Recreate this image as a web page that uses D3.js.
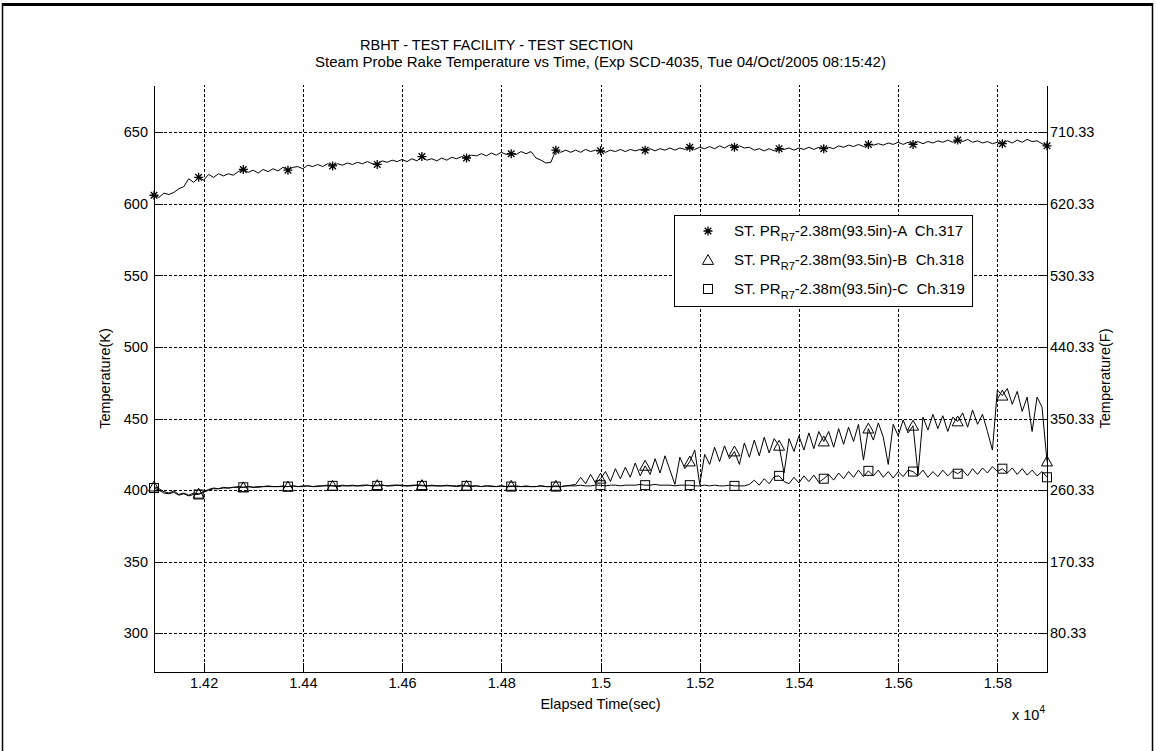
<!DOCTYPE html>
<html>
<head>
<meta charset="utf-8">
<script src="https://cdn.jsdelivr.net/npm/d3@7"></script>
<style>
  html, body { margin: 0; padding: 0; background: #fff; }
  svg { display: block; }
  text { font-family: "Liberation Sans", Arial, sans-serif; fill: #000; }
</style>
</head>
<body>
<svg id="chart" width="1156" height="751"></svg>
<script>
// ---------- data ----------
const titleLines = ["RBHT - TEST FACILITY - TEST SECTION",
  "Steam Probe Rake Temperature vs Time, (Exp SCD-4035, Tue 04/Oct/2005 08:15:42)"];
const xTicks = [14200, 14400, 14600, 14800, 15000, 15200, 15400, 15600, 15800];
const yTicksK = [300, 350, 400, 450, 500, 550, 600, 650];
const yTicksF = ["80.33", "170.33", "260.33", "350.33", "440.33", "530.33", "620.33", "710.33"];
const seriesNames = ["-2.38m(93.5in)-A  Ch.317", "-2.38m(93.5in)-B  Ch.318", "-2.38m(93.5in)-C  Ch.319"];
// sample times (s), every 10 s from 14100 to 15900
const times = d3.range(14100, 15901, 10);

const tempA = [
606,604.5,607.5,606.5,608,610.5,612,617.5,615,618.5,
616.5,620.5,618.5,621,619.5,621,620,622.5,624,622,
623.5,621.5,624,622.5,624.5,623,625.5,623.5,625.5,626,
624.5,627,626,627.5,626,628,626.5,628,627,628.5,
627.5,629,628,629.5,628,627.5,630,629,630.5,629.5,
631,629.5,631.5,630,633,630.5,631.5,630,632,630.5,
632.5,631.5,633,632,634,633.5,635,633.5,635.5,634,
636,634.5,635,634.5,636.5,635,636.5,632,630.5,628.5,
629,637.5,636,637.5,636,637.5,636,638,636.5,637.5,
637,636,637.5,636.5,638,636.5,638,637,638,637.5,
638.5,637,638.5,637.5,639,637.5,639,638,639.5,638,
639.5,638.5,640,638.5,640.5,639,641,639.5,640.5,639,
639.5,637.5,638.5,637,638.5,637,638.5,638,639,637.5,
639,638,639.5,638,639.5,638.5,639.5,638.5,640.5,639.5,
641,640,641.5,640,641.5,641,642,641,642.5,641.5,
643,641.5,643,641.5,643.5,642,643.5,642.5,644,643,
644.5,643,644.5,643.5,645,643,644,642.5,643.5,642,
643,642,644,642.5,644.5,643,645,643.5,644,642,
640.5];

const tempB = [
402.5,401,399,398,399.5,397,398,396.5,398,397.5,
399,400.5,401.5,401,402,401.5,402,402.5,402,402.5,
402,402.5,402.5,403,402.5,402.5,403,402.5,403,402.5,
403,403,402.5,403,403,403.5,403,403,403.5,403,
403.5,403,403.5,403.5,403,403.5,403.5,403,403.5,403.5,
403.5,403,403.5,403.5,403.5,403,403.5,403,403,403.5,
403,403,403.5,403,403,403,402.5,403,403,402.5,
403,402.5,403,402.5,402.5,403,402.5,402.5,403,402.5,
402.5,403,402.5,403,403.5,404,409,404.5,411,405,
408,413,406,415,408,416,409,419,410,417,
411,422,412,424,414,404,423,415,420,428,
404,425,418,430,420,431,422,427,418,433,
423,435,424,437,426,436,431,412,436,427,
438,428,440,429,441,434,441,430,443,432,
444,434,446,421,443,435,447,437,418,446,
438,449,440,445,411,451,442,453,443,452,
441,451,448,454,444,456,446,453,441,428,
470,466,471,460,469,455,465,441,465,458,
420];

const tempC = [
401.5,400,398,397.5,398.5,396.5,397.5,396,397,397,
398.5,400,401,401,401.5,401.5,402,402,402,402.5,
402,402,402.5,402.5,402.5,402.5,402.5,402.5,403,402.5,
402.5,403,402.5,402.5,403,403,403,402.5,403,403,
403,403,403,403.5,403,403,403.5,403,403,403.5,
403,403,403,403.5,403,403,403,403,403,403,
403,402.5,403,403,402.5,403,402.5,403,402.5,402.5,
403,402.5,402.5,403,402.5,402.5,402.5,402.5,403,402.5,
402.5,402.5,402.5,403,403,403,403.5,403,403,403.5,
403.5,403,403.5,403.5,403,403.5,403.5,403.5,404,403.5,
403.5,404,403.5,403.5,403.5,403,403.5,403.5,403.5,403,
403,403.5,403,403.5,403,403,403.5,403,403,403,
404,407,403.5,408,404.5,409.5,410,406,404.5,409,
405,410,406,410.5,405.5,408,411,407,412,408,
413,409,414,409.5,413.5,410,414,409,413,408.5,
413,409.5,414,413,410,414,409,413,409.5,414,
410,413.5,411.5,414,410,415,411,415.5,412,416.5,
413,415,412,415.5,411,415,410.5,414,410,413,
409];

// ---------- layout ----------
const svg = d3.select("#chart");
const L = 154, R = 1047, T = 85, B = 672;
const x = d3.scaleLinear().domain([14100, 15900]).range([L, R]);
const y = d3.scaleLinear().domain([273, 683]).range([B, T]);
const fontSize = 14.5, bigFont = 15;

// outer frame
svg.append("line").attr("x1", 2).attr("x2", 1153).attr("y1", 4.5).attr("y2", 4.5)
  .attr("stroke", "#000").attr("stroke-width", 3);
svg.append("line").attr("x1", 2.5).attr("x2", 2.5).attr("y1", 3).attr("y2", 751)
  .attr("stroke", "#000").attr("stroke-width", 1.5);
svg.append("line").attr("x1", 1152.5).attr("x2", 1152.5).attr("y1", 3).attr("y2", 751)
  .attr("stroke", "#000").attr("stroke-width", 1.5);

// grid
const grid = svg.append("g").attr("stroke", "#000").attr("stroke-width", 1)
  .attr("stroke-dasharray", "3,2").attr("shape-rendering", "crispEdges");
grid.selectAll("line.v").data(xTicks).join("line")
  .attr("x1", d => Math.round(x(d)) + 0.5).attr("x2", d => Math.round(x(d)) + 0.5)
  .attr("y1", B).attr("y2", T);
grid.selectAll("line.h").data(yTicksK).join("line")
  .attr("y1", d => Math.round(y(d)) + 0.5).attr("y2", d => Math.round(y(d)) + 0.5)
  .attr("x1", L).attr("x2", R);

// axes
const fmtX = d => String(+(d / 1e4).toFixed(2));
const axB = svg.append("g").attr("transform", `translate(0,${B})`)
  .call(d3.axisBottom(x).tickValues(xTicks).tickFormat(fmtX).tickSize(-9).tickPadding(6).tickSizeOuter(0));
const axL = svg.append("g").attr("transform", `translate(${L},0)`)
  .call(d3.axisLeft(y).tickValues(yTicksK).tickFormat(d3.format("d")).tickSize(-9).tickPadding(6).tickSizeOuter(0));
const axR = svg.append("g").attr("transform", `translate(${R},0)`)
  .call(d3.axisRight(y).tickValues(yTicksK).tickFormat((d, i) => yTicksF[i]).tickSize(-9).tickPadding(3).tickSizeOuter(0));
[axB, axL, axR].forEach(a => {
  a.selectAll("text").style("font-size", fontSize + "px").style("font-family", '"Liberation Sans", Arial, sans-serif');
  a.selectAll("path,line").attr("stroke", "#000").attr("shape-rendering", "crispEdges");
  a.select(".domain").attr("stroke-width", 1);
});

// series
const line = d3.line().x((d, i) => x(times[i])).y(d => y(d));
const series = [tempA, tempB, tempC];
const plot = svg.append("g");
series.forEach(s => {
  plot.append("path").datum(s).attr("d", line)
    .attr("fill", "none").attr("stroke", "#000").attr("stroke-width", 1);
});

// markers (every 90 s)
function drawMarker(g, kind, cx, cy) {
  if (kind === 0) {
    const r = 4.5, q = 3.3;
    g.append("path").attr("d",
      `M${cx - r},${cy}L${cx + r},${cy}M${cx},${cy - r}L${cx},${cy + r}` +
      `M${cx - q},${cy - q}L${cx + q},${cy + q}M${cx - q},${cy + q}L${cx + q},${cy - q}`)
      .attr("stroke", "#000").attr("stroke-width", 1.3).attr("fill", "none");
  } else if (kind === 1) {
    const r = 5.5;
    g.append("path").attr("d", `M${cx},${cy - r}L${cx + r},${cy + r * 0.8}L${cx - r},${cy + r * 0.8}Z`)
      .attr("stroke", "#000").attr("stroke-width", 1).attr("fill", "none");
  } else {
    const r = 4.5;
    g.append("rect").attr("x", cx - r).attr("y", cy - r).attr("width", 2 * r).attr("height", 2 * r)
      .attr("stroke", "#000").attr("stroke-width", 1).attr("fill", "none");
  }
}
const mk = svg.append("g");
series.forEach((s, k) => {
  s.forEach((v, i) => {
    if (i % 9 === 0) drawMarker(mk, k, x(times[i]), y(v));
  });
});

// titles
svg.append("text").attr("x", 360).attr("y", 50).style("font-size", fontSize + "px").text(titleLines[0]);
svg.append("text").attr("x", (L + R) / 2).attr("y", 67).attr("text-anchor", "middle")
  .style("font-size", bigFont + "px").text(titleLines[1]);

// axis labels
svg.append("text").attr("x", (L + R) / 2).attr("y", 709).attr("text-anchor", "middle")
  .style("font-size", fontSize + "px").text("Elapsed Time(sec)");
const ex = svg.append("text").attr("x", 1012).attr("y", 720).style("font-size", fontSize + "px");
ex.append("tspan").text("x 10");
ex.append("tspan").attr("dy", -7).style("font-size", "10px").text("4");
svg.append("text").attr("transform", `translate(110,${(T + B) / 2}) rotate(-90)`)
  .attr("text-anchor", "middle").style("font-size", fontSize + "px").text("Temperature(K)");
svg.append("text").attr("transform", `translate(1110,${(T + B) / 2}) rotate(-90)`)
  .attr("text-anchor", "middle").style("font-size", fontSize + "px").text("Temperature(F)");

// legend
const lg = svg.append("g");
lg.append("rect").attr("x", 674.5).attr("y", 215.5).attr("width", 298).attr("height", 91)
  .attr("fill", "#fff").attr("stroke", "#000").attr("stroke-width", 1);
const rowsY = [231, 260, 289];
seriesNames.forEach((name, k) => {
  drawMarker(lg, k, 708, rowsY[k]);
  const t = lg.append("text").attr("x", 734).attr("y", rowsY[k] + 5).style("font-size", bigFont + "px")
    .attr("xml:space", "preserve");
  t.append("tspan").text("ST. PR");
  t.append("tspan").attr("dy", 5).style("font-size", "11px").text("R7");
  t.append("tspan").attr("dy", -5).text(name);
});
</script>
</body>
</html>
